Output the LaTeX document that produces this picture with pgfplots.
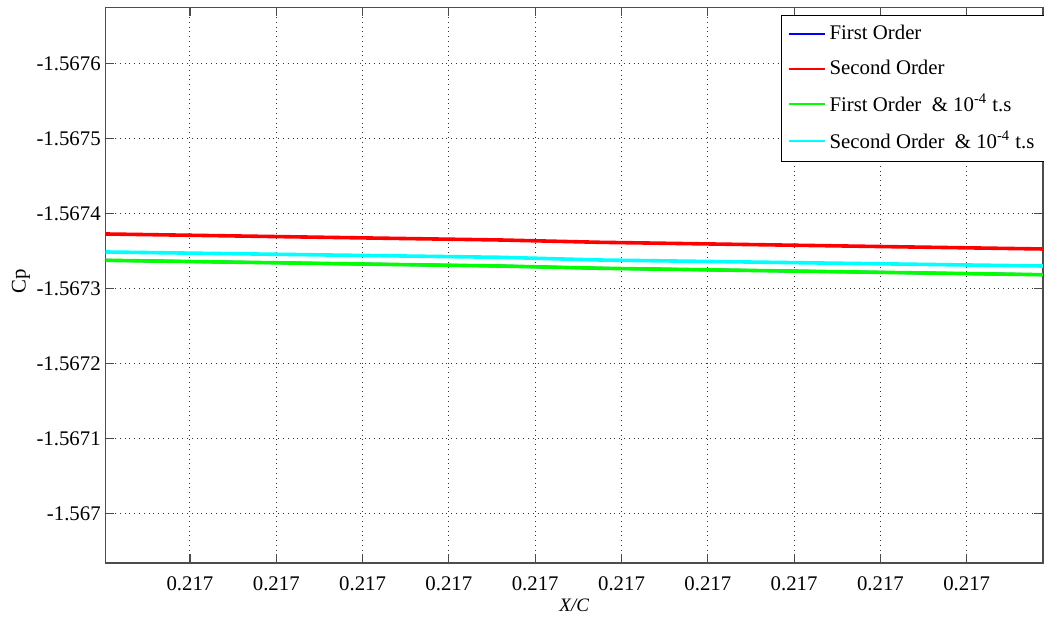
\documentclass[border=0pt]{standalone}
\usepackage{fontspec}
\setmainfont{Liberation Serif}
\usepackage{pgfplots}
\pgfplotsset{compat=1.18}
\definecolor{mcyan}{rgb}{0,1,1}
% y values are stored as (Cp + 1.567) x 10^4 to keep full precision
\begin{document}
\begin{tikzpicture}
\useasboundingbox (-52.75pt,-28pt) rectangle (469.25pt,281.5pt);
\begin{axis}[
  at={(0,0)}, anchor=south west,
  scale only axis, width=468.75pt, height=277.75pt,
  xmin=0.021, xmax=10.884,
  xtick={1,2,3,4,5,6,7,8,9,10},
  xticklabels={0.217,0.217,0.217,0.217,0.217,0.217,0.217,0.217,0.217,0.217},
  y dir=reverse,
  ymin=-6.744, ymax=0.663,
  ytick={-6,-5,-4,-3,-2,-1,0},
  yticklabels={-1.5676,-1.5675,-1.5674,-1.5673,-1.5672,-1.5671,-1.567},
  tick label style={font=\fontsize{10.4}{12}\selectfont},
  yticklabel style={inner xsep=2.2pt},
  xticklabel style={yshift=-3.5pt},
  grid=major,
  major grid style={dotted, black!80, line width=0.5pt},
  tick align=inside, major tick length=4.5pt,
  xtick pos=both, ytick pos=both,
  tick style={black!70, line width=0.6pt},
  axis line style={black!70, line width=0.6pt},
  xlabel={X/C},
  xlabel style={at={(axis description cs:0.5,0)}, anchor=center, yshift=-21pt, font=\fontsize{9.5}{11}\selectfont\itshape},
  ylabel={Cp},
  ylabel style={at={(axis description cs:-0.0901,0.507)}, anchor=center, font=\fontsize{10.4}{12}\selectfont},
  legend cell align=left,
  legend style={at={(1,1)}, anchor=north east, xshift=1pt, yshift=-3.75pt, draw=black, line width=0.5pt,
    font=\fontsize{10.4}{12}\selectfont, row sep=4.5pt, inner xsep=3pt, inner ysep=3pt},
  legend image code/.code={\draw[#1, line width=0.9pt] (0pt,0pt) -- (18pt,0pt);},
]
\addplot[color=blue, line width=1.4pt] coordinates {(0.021,-3.373) (4.592,-3.297) (5.751,-3.267) (10.884,-3.181)};
\addlegendentry{First Order}
\addplot[color=red, line width=1.8pt] coordinates {(0.021,-3.724) (4.592,-3.644) (5.751,-3.613) (10.884,-3.524)};
\addlegendentry{Second Order}
\addplot[color=green, line width=1.8pt] coordinates {(0.021,-3.373) (4.592,-3.297) (5.751,-3.267) (10.884,-3.181)};
\addlegendentry{First Order~ \& 10\textsuperscript{-4} t.s}
\addplot[color=mcyan, line width=1.8pt] coordinates {(0.021,-3.484) (4.592,-3.413) (5.751,-3.377) (10.884,-3.297)};
\addlegendentry{Second Order~ \& 10\textsuperscript{-4} t.s}
\end{axis}
\end{tikzpicture}
\end{document}
